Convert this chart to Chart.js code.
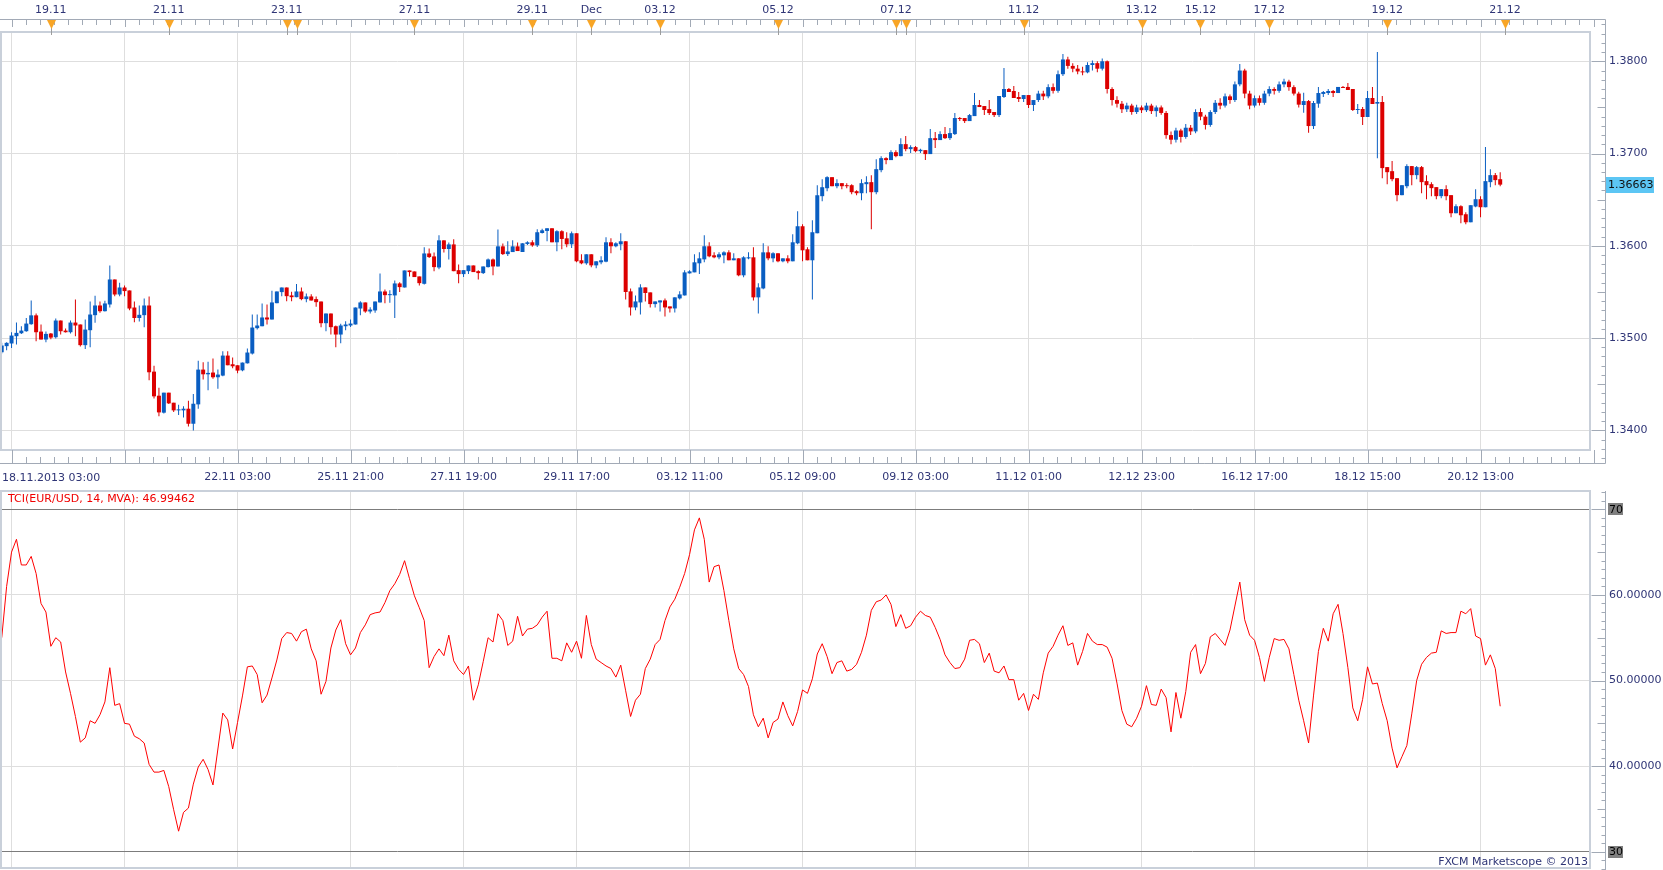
<!DOCTYPE html>
<html>
<head>
<meta charset="utf-8">
<title>EUR/USD H2</title>
<script src="https://cdn.jsdelivr.net/npm/chart.js@4.4.1/dist/chart.umd.min.js"></script>
<style>
  html, body { margin: 0; padding: 0; background: #fff; overflow: hidden; }
  #wrap { position: relative; width: 1663px; height: 870px; }
  canvas { position: absolute; left: 0; }
</style>
</head>
<body>
<div id="wrap">
  <canvas id="price" width="1663" height="488" style="top:0"></canvas>
  <canvas id="tci" width="1663" height="382" style="top:488px"></canvas>
</div>
<script>
// EUR/USD, 2-hour candles, 18.11.2013 03:00 .. 20.12.2013 21:00
const opens = [
  1.34846,1.34912,1.34941,1.35020,1.35052,1.35074,1.35150,1.35246,1.35070,1.34984,
  1.35049,1.35009,1.35190,1.35081,1.35063,1.35168,1.35147,1.34923,1.35085,1.35248,
  1.35353,1.35291,1.35364,1.35635,1.35472,1.35548,1.35516,1.35331,1.35217,1.35248,
  1.35353,1.34636,1.34375,1.34191,1.34408,1.34299,1.34216,1.34216,1.34234,1.34071,
  1.34281,1.34658,1.34607,1.34626,1.34575,1.34593,1.34810,1.34716,1.34705,1.34650,
  1.34726,1.34832,1.35107,1.35128,1.35223,1.35201,1.35378,1.35498,1.35548,1.35462,
  1.35443,1.35505,1.35422,1.35451,1.35422,1.35396,1.35161,1.35266,1.35128,1.35038,
  1.35128,1.35136,1.35147,1.35320,1.35386,1.35288,1.35299,1.35386,1.35505,1.35465,
  1.35462,1.35592,1.35548,1.35733,1.35722,1.35668,1.35588,1.35917,1.35885,1.35765,
  1.36059,1.35965,1.36015,1.35736,1.35693,1.35725,1.35787,1.35725,1.35704,1.35769,
  1.35852,1.35776,1.35994,1.35910,1.35932,1.35994,1.35933,1.36020,1.36038,1.36005,
  1.36139,1.36161,1.36190,1.36038,1.36158,1.36081,1.36016,1.36136,1.35843,1.35810,
  1.35908,1.35788,1.35821,1.35828,1.36038,1.35995,1.36016,1.36049,1.35506,1.35332,
  1.35386,1.35549,1.35495,1.35368,1.35386,1.35408,1.35343,1.35321,1.35430,1.35462,
  1.35701,1.35712,1.35810,1.35853,1.35995,1.35897,1.35875,1.35897,1.35929,1.35843,
  1.35864,1.35680,1.35864,1.35875,1.35441,1.35538,1.35929,1.35864,1.35919,1.35832,
  1.35864,1.35832,1.36027,1.36212,1.35962,1.35843,1.36136,1.36538,1.36624,1.36744,
  1.36646,1.36679,1.36657,1.36657,1.36592,1.36570,1.36668,1.36690,1.36581,1.36820,
  1.36950,1.36929,1.37015,1.36972,1.37102,1.37048,1.37070,1.37026,1.37037,1.36994,
  1.37167,1.37146,1.37211,1.37167,1.37211,1.37385,1.37385,1.37352,1.37406,1.37526,
  1.37515,1.37482,1.37450,1.37417,1.37613,1.37700,1.37678,1.37613,1.37591,1.37634,
  1.37526,1.37580,1.37650,1.37620,1.37720,1.37680,1.37860,1.38020,1.37950,1.37920,
  1.37890,1.37880,1.37960,1.37980,1.37920,1.38000,1.37700,1.37580,1.37540,1.37480,
  1.37520,1.37450,1.37500,1.37470,1.37520,1.37460,1.37500,1.37440,1.37200,1.37150,
  1.37250,1.37180,1.37280,1.37240,1.37450,1.37400,1.37310,1.37450,1.37550,1.37520,
  1.37620,1.37580,1.37750,1.37900,1.37650,1.37520,1.37600,1.37550,1.37650,1.37700,
  1.37680,1.37750,1.37780,1.37720,1.37650,1.37526,1.37569,1.37298,1.37541,1.37646,
  1.37656,1.37678,1.37656,1.37722,1.37722,1.37700,1.37472,1.37483,1.37396,1.37602,
  1.37541,1.37559,1.36853,1.36809,1.36733,1.36549,1.36646,1.36864,1.36766,1.36853,
  1.36701,1.36668,1.36636,1.36538,1.36614,1.36549,1.36353,1.36429,1.36342,1.36255,
  1.36426,1.36505,1.36418,1.36690,1.36766,1.36722
];
const highs = [
  1.34948,1.34955,1.35063,1.35168,1.35128,1.35217,1.35407,1.35266,1.35147,1.35070,
  1.35056,1.35212,1.35190,1.35103,1.35190,1.35418,1.35147,1.35201,1.35396,1.35458,
  1.35396,1.35404,1.35787,1.35635,1.35599,1.35570,1.35516,1.35396,1.35353,1.35429,
  1.35451,1.34701,1.34462,1.34408,1.34408,1.34299,1.34278,1.34260,1.34321,1.34393,
  1.34755,1.34737,1.34744,1.34777,1.34658,1.34857,1.34857,1.34788,1.34705,1.34734,
  1.34887,1.35255,1.35255,1.35375,1.35364,1.35512,1.35505,1.35548,1.35548,1.35501,
  1.35585,1.35548,1.35483,1.35476,1.35451,1.35396,1.35266,1.35266,1.35136,1.35154,
  1.35183,1.35201,1.35331,1.35400,1.35386,1.35335,1.35396,1.35700,1.35527,1.35519,
  1.35624,1.35606,1.35733,1.35733,1.35722,1.35668,1.35983,1.35972,1.35928,1.36113,
  1.36059,1.36037,1.36070,1.35798,1.35736,1.35787,1.35787,1.35736,1.35776,1.35863,
  1.35863,1.36178,1.36026,1.36048,1.36059,1.36037,1.36027,1.36049,1.36060,1.36179,
  1.36186,1.36190,1.36190,1.36168,1.36168,1.36147,1.36154,1.36136,1.35908,1.35908,
  1.35908,1.35832,1.35886,1.36092,1.36081,1.36038,1.36136,1.36049,1.35538,1.35462,
  1.35582,1.35549,1.35495,1.35397,1.35408,1.35430,1.35343,1.35441,1.35506,1.35734,
  1.35734,1.35908,1.35929,1.36114,1.36038,1.35929,1.35929,1.35940,1.35951,1.35919,
  1.35864,1.35886,1.35929,1.35984,1.35593,1.36027,1.35995,1.35929,1.35919,1.35864,
  1.35897,1.36125,1.36375,1.36234,1.35984,1.36277,1.36657,1.36722,1.36755,1.36744,
  1.36722,1.36679,1.36679,1.36668,1.36603,1.36722,1.36755,1.36766,1.36939,1.36972,
  1.36961,1.37037,1.37037,1.37167,1.37189,1.37091,1.37081,1.37052,1.37037,1.37265,
  1.37233,1.37243,1.37287,1.37276,1.37439,1.37396,1.37385,1.37428,1.37656,1.37580,
  1.37515,1.37580,1.37450,1.37624,1.37928,1.37710,1.37732,1.37667,1.37634,1.37634,
  1.37580,1.37680,1.37680,1.37750,1.37760,1.37900,1.38080,1.38050,1.37980,1.37960,
  1.37940,1.37990,1.38010,1.38000,1.38030,1.38010,1.37720,1.37620,1.37570,1.37550,
  1.37540,1.37530,1.37520,1.37550,1.37540,1.37520,1.37520,1.37460,1.37240,1.37280,
  1.37270,1.37320,1.37310,1.37480,1.37490,1.37420,1.37470,1.37580,1.37600,1.37650,
  1.37640,1.37780,1.37970,1.37920,1.37680,1.37630,1.37630,1.37680,1.37730,1.37720,
  1.37780,1.37810,1.37800,1.37740,1.37670,1.37660,1.37580,1.37569,1.37722,1.37678,
  1.37700,1.37689,1.37722,1.37732,1.37765,1.37700,1.37537,1.37504,1.37678,1.37722,
  1.38102,1.37624,1.36853,1.36918,1.36733,1.36657,1.36885,1.36864,1.36864,1.36864,
  1.36766,1.36690,1.36636,1.36614,1.36657,1.36549,1.36451,1.36440,1.36364,1.36440,
  1.36614,1.36538,1.37070,1.36831,1.36788,1.36798
];
const lows = [
  1.34832,1.34869,1.34891,1.34930,1.35045,1.35067,1.35143,1.34966,1.34984,1.34955,
  1.34988,1.34995,1.35038,1.35060,1.35049,1.35020,1.34908,1.34880,1.34901,1.35165,
  1.35273,1.35288,1.35331,1.35454,1.35454,1.35454,1.35302,1.35172,1.35179,1.35118,
  1.34542,1.34346,1.34151,1.34183,1.34285,1.34198,1.34165,1.34140,1.34042,1.33999,
  1.34234,1.34550,1.34433,1.34560,1.34451,1.34586,1.34705,1.34672,1.34618,1.34640,
  1.34724,1.34821,1.35092,1.35128,1.35147,1.35201,1.35378,1.35454,1.35400,1.35400,
  1.35443,1.35411,1.35389,1.35407,1.35338,1.35118,1.35074,1.35038,1.34901,1.34944,
  1.35085,1.35121,1.35147,1.35248,1.35273,1.35266,1.35273,1.35386,1.35378,1.35382,
  1.35217,1.35498,1.35548,1.35668,1.35661,1.35570,1.35581,1.35867,1.35725,1.35747,
  1.35928,1.35852,1.35725,1.35595,1.35661,1.35693,1.35715,1.35635,1.35693,1.35765,
  1.35682,1.35776,1.35899,1.35889,1.35932,1.35943,1.35933,1.36009,1.35991,1.35987,
  1.36132,1.36049,1.36038,1.35940,1.35962,1.35984,1.35976,1.35821,1.35799,1.35795,
  1.35767,1.35756,1.35799,1.35821,1.35919,1.35984,1.35951,1.35419,1.35245,1.35300,
  1.35256,1.35397,1.35332,1.35332,1.35289,1.35234,1.35278,1.35278,1.35419,1.35462,
  1.35701,1.35712,1.35694,1.35821,1.35875,1.35864,1.35853,1.35810,1.35843,1.35843,
  1.35669,1.35658,1.35853,1.35408,1.35267,1.35528,1.35843,1.35821,1.35821,1.35821,
  1.35810,1.35832,1.36016,1.35832,1.35843,1.35419,1.36136,1.36483,1.36592,1.36646,
  1.36624,1.36614,1.36624,1.36559,1.36548,1.36494,1.36570,1.36179,1.36559,1.36798,
  1.36885,1.36929,1.36961,1.36972,1.37026,1.37005,1.37015,1.37005,1.36929,1.36994,
  1.37059,1.37146,1.37157,1.37146,1.37200,1.37352,1.37330,1.37352,1.37406,1.37504,
  1.37417,1.37417,1.37396,1.37396,1.37602,1.37667,1.37602,1.37558,1.37558,1.37493,
  1.37461,1.37560,1.37580,1.37600,1.37650,1.37660,1.37840,1.37920,1.37880,1.37860,
  1.37850,1.37870,1.37900,1.37880,1.37900,1.37650,1.37520,1.37500,1.37440,1.37450,
  1.37420,1.37430,1.37440,1.37450,1.37430,1.37400,1.37420,1.37160,1.37100,1.37120,
  1.37120,1.37160,1.37200,1.37220,1.37360,1.37260,1.37290,1.37430,1.37480,1.37500,
  1.37540,1.37560,1.37730,1.37600,1.37480,1.37500,1.37520,1.37530,1.37620,1.37640,
  1.37660,1.37720,1.37680,1.37630,1.37500,1.37443,1.37226,1.37265,1.37497,1.37613,
  1.37635,1.37613,1.37656,1.37711,1.37689,1.37461,1.37428,1.37309,1.37396,1.37537,
  1.36950,1.36733,1.36668,1.36701,1.36483,1.36549,1.36625,1.36657,1.36722,1.36570,
  1.36505,1.36538,1.36505,1.36516,1.36494,1.36310,1.36353,1.36245,1.36234,1.36255,
  1.36418,1.36310,1.36418,1.36635,1.36657,1.36646
];
const closes = [
  1.34919,1.34948,1.35027,1.35056,1.35081,1.35157,1.35246,1.35063,1.34984,1.35045,
  1.35005,1.35190,1.35074,1.35063,1.35168,1.35136,1.34923,1.35092,1.35255,1.35353,
  1.35291,1.35375,1.35635,1.35472,1.35548,1.35509,1.35320,1.35217,1.35252,1.35353,
  1.34629,1.34368,1.34194,1.34408,1.34292,1.34216,1.34223,1.34234,1.34071,1.34288,
  1.34658,1.34607,1.34622,1.34575,1.34604,1.34810,1.34705,1.34694,1.34647,1.34734,
  1.34843,1.35114,1.35136,1.35223,1.35201,1.35386,1.35505,1.35548,1.35454,1.35443,
  1.35505,1.35422,1.35451,1.35407,1.35389,1.35161,1.35266,1.35118,1.35038,1.35136,
  1.35147,1.35157,1.35331,1.35386,1.35288,1.35309,1.35396,1.35505,1.35465,1.35472,
  1.35592,1.35552,1.35733,1.35715,1.35661,1.35595,1.35917,1.35878,1.35769,1.36059,
  1.35965,1.36015,1.35725,1.35693,1.35736,1.35787,1.35715,1.35704,1.35776,1.35852,
  1.35776,1.35994,1.35910,1.35939,1.35994,1.35943,1.36027,1.36038,1.36005,1.36147,
  1.36168,1.36190,1.36038,1.36158,1.36074,1.36016,1.36136,1.35832,1.35810,1.35908,
  1.35788,1.35832,1.35843,1.36038,1.35995,1.36027,1.36049,1.35499,1.35332,1.35397,
  1.35549,1.35488,1.35368,1.35397,1.35408,1.35332,1.35321,1.35441,1.35473,1.35712,
  1.35723,1.35821,1.35864,1.35995,1.35886,1.35875,1.35908,1.35929,1.35843,1.35864,
  1.35680,1.35875,1.35875,1.35441,1.35549,1.35929,1.35864,1.35919,1.35832,1.35864,
  1.35832,1.36038,1.36212,1.35951,1.35843,1.36147,1.36548,1.36635,1.36744,1.36646,
  1.36679,1.36646,1.36646,1.36581,1.36570,1.36679,1.36690,1.36581,1.36831,1.36950,
  1.36929,1.37015,1.36972,1.37102,1.37048,1.37070,1.37026,1.37041,1.36994,1.37167,
  1.37146,1.37211,1.37167,1.37222,1.37385,1.37374,1.37352,1.37417,1.37526,1.37504,
  1.37472,1.37439,1.37417,1.37624,1.37700,1.37667,1.37602,1.37591,1.37634,1.37526,
  1.37580,1.37650,1.37620,1.37720,1.37680,1.37860,1.38020,1.37950,1.37920,1.37890,
  1.37880,1.37960,1.37980,1.37920,1.38000,1.37700,1.37580,1.37540,1.37480,1.37520,
  1.37450,1.37500,1.37470,1.37520,1.37460,1.37500,1.37440,1.37200,1.37150,1.37250,
  1.37180,1.37280,1.37240,1.37450,1.37400,1.37310,1.37450,1.37550,1.37520,1.37620,
  1.37580,1.37750,1.37900,1.37650,1.37520,1.37600,1.37550,1.37650,1.37700,1.37680,
  1.37750,1.37780,1.37720,1.37650,1.37530,1.37569,1.37298,1.37548,1.37656,1.37667,
  1.37678,1.37656,1.37722,1.37711,1.37689,1.37472,1.37483,1.37396,1.37602,1.37537,
  1.37559,1.36842,1.36798,1.36722,1.36549,1.36657,1.36864,1.36766,1.36853,1.36690,
  1.36657,1.36625,1.36538,1.36614,1.36538,1.36353,1.36429,1.36331,1.36255,1.36440,
  1.36505,1.36418,1.36701,1.36766,1.36712,1.36663
];
// TCI(EUR/USD, 14, MVA), one value per candle
const tciValues = [
  55,61,65,66.5,63.5,63.5,64.5,62.5,59,58,
  54,55,54.5,51,48.5,45.8,42.8,43.3,45.3,45,
  46,47.5,51.5,47.1,47.3,45,44.9,43.5,43.2,42.7,
  40.2,39.3,39.3,39.5,37.6,34.9,32.4,34.6,35.1,37.9,
  39.9,40.8,39.6,37.8,42,46.2,45.4,42,45.1,48.2,
  51.6,51.7,50.7,47.4,48.3,50.3,52.4,54.9,55.6,55.5,
  54.6,55.7,56,53.7,52.3,48.4,49.9,53.8,55.9,57.1,
  54.3,53,53.8,55.6,56.5,57.7,57.9,58,59.1,60.5,
  61.3,62.4,64,61.9,59.9,58.5,57,51.5,52.8,53.7,
  52.9,55.3,52.3,51.3,50.7,51.7,47.7,49.5,52.2,55,
  54.5,57.8,57,54.1,54.6,57.5,55.2,56,56.1,56.5,
  57.4,58.1,52.6,52.6,52.3,54.4,53.3,54.6,52.6,57.6,
  54.2,52.5,52.1,51.7,51.4,50.4,51.8,48.8,45.8,47.7,
  48.4,51.4,52.5,54.2,54.8,57,58.6,59.5,60.9,62.5,
  64.7,67.6,69,66.5,61.5,63.3,63.5,60.5,57,53.7,
  51.4,50.7,49.3,46,44.6,45.6,43.3,45.1,45.5,47.5,
  45.9,44.7,46.4,48.9,48.5,50.2,53.1,54.3,52.8,50.8,
  52.1,52.3,51.1,51.3,51.9,53.3,55.3,58.2,59.2,59.4,
  60,58.9,56.3,57.7,56.1,56.4,57.4,58.1,57.6,57.4,
  56.2,54.8,53,52.1,51.4,51.5,52.5,54.7,54.8,54.3,
  52.1,53.2,51.1,50.9,51.7,50.1,50.1,47.7,48.5,46.5,
  48.4,47.8,50.9,53.2,54,55.3,56.4,54.1,54.4,51.8,
  53.4,55.5,54.6,54.2,54.2,53.9,52.6,49.7,46.5,44.9,
  44.6,45.6,47,49.4,47.2,47.1,49,48,44.0,48.6,
  45.6,48.7,53.3,54.2,50.8,52,55.1,55.5,54.8,54.1,
  55.9,58.7,61.5,57.1,55.3,54.7,52.7,49.9,52.7,54.9,
  54.7,54.8,53.7,50.7,47.7,45.3,42.7,48.2,53.4,56.1,
  54.6,57.8,58.9,55.5,51.5,46.8,45.3,47.8,51.6,49.6,
  49.7,47.3,45.3,42.1,39.8,41.1,42.4,46.1,50,51.9,
  52.7,53.2,53.3,55.8,55.5,55.6,55.6,58.1,57.8,58.4,
  55.2,54.9,51.8,53.0,51.4,46.99462
];

// time axis (candle index -> label)
const firstCandleLabel = '18.11.2013 03:00';
const timeTickIdx = [2, 25, 48, 71, 94, 117, 140, 163, 186, 209, 232, 255, 278, 301];
const timeTickLabels = ['', '', '22.11 03:00', '25.11 21:00', '27.11 19:00', '29.11 17:00',
  '03.12 11:00', '05.12 09:00', '09.12 03:00', '11.12 01:00', '12.12 23:00',
  '16.12 17:00', '18.12 15:00', '20.12 13:00'];
const rulerSteps = 8;

// day markers on the top strip
const dayMarkIdx = [10, 34, 58, 60, 84, 108, 120, 134, 158, 182, 184, 208, 232, 244, 258, 282, 306];
const dayLabelIdx = [10, 34, 58, 84, 108, 120, 134, 158, 182, 208, 232, 244, 258, 282, 306];
const dayLabels = ['19.11', '21.11', '23.11', '27.11', '29.11', 'Dec', '03.12', '05.12',
  '07.12', '11.12', '13.12', '15.12', '17.12', '19.12', '21.12'];

const priceTicks = [1.34, 1.35, 1.36, 1.37, 1.38];
const tciTicks = [30, 40, 50, 60, 70];
const tciBounds = [30, 70];
const tciTitle = 'TCI(EUR/USD, 14, MVA): ';
const footer = 'FXCM Marketscope \u00a9 2013';

const X_MIN = -0.35;
const X_MAX = 323.28;
const FONT = "11px 'DejaVu Sans'";
const TEXT = '#2f3576';
const RULER = '#a2aab6';
const FRAME = '#c9d0da';
const GRID = '#dedede';
const UP = '#0a5ec2';
const DOWN = '#dc0000';
const AXIS_X = 1605.5;

Chart.defaults.font.family = "'DejaVu Sans', Verdana, sans-serif";
Chart.defaults.font.size = 11;
Chart.defaults.color = TEXT;

const idx = closes.map((_, i) => i);
const candleColors = idx.map((i) => (closes[i] >= opens[i] ? UP : DOWN));
const wickData = idx.map((i) => ({ x: i, y: [lows[i], highs[i]] }));
const bodyData = idx.map((i) => ({
  x: i,
  y: [Math.min(opens[i], closes[i]), Math.max(opens[i], closes[i])],
}));

const sharp = (v) => Math.round(v) + 0.5;

// fixed-size axes, no automatic label padding
const fixHeight = (h) => (s) => { s.height = h; s.paddingLeft = 0; s.paddingRight = 0; };
const fixWidth = (w) => (s) => { s.width = w; s.paddingTop = 0; s.paddingBottom = 0; };

const priceChrome = {
  id: 'priceChrome',
  afterDraw(chart) {
    const { ctx, chartArea: a, scales } = chart;
    const x = scales.x;
    const y = scales.y;
    const xTop = scales.xTop;
    ctx.save();

    // plot frame
    ctx.strokeStyle = FRAME;
    ctx.lineWidth = 2;
    ctx.strokeRect(a.left + 1, a.top, a.right - a.left - 1, a.bottom - a.top);

    // rulers + right axis
    ctx.strokeStyle = RULER;
    ctx.lineWidth = 1;
    ctx.beginPath();
    ctx.moveTo(0, 19.5);
    ctx.lineTo(AXIS_X, 19.5);
    ctx.moveTo(0, 463.5);
    ctx.lineTo(AXIS_X, 463.5);
    ctx.moveTo(AXIS_X, 19.5);
    ctx.lineTo(AXIS_X, 463.5);
    const step = (timeTickIdx[1] - timeTickIdx[0]) / rulerSteps;
    for (let k = -1; k < 200; k++) {
      const px = sharp(x.getPixelForValue(timeTickIdx[0] + k * step));
      if (px < 0) continue;
      if (px > AXIS_X - 3) break;
      const major = k % rulerSteps === 0;
      ctx.moveTo(px, 463.5);
      ctx.lineTo(px, major ? a.bottom : 457);
      ctx.moveTo(px, 19.5);
      ctx.lineTo(px, major ? 27 : 25);
    }
    for (let k = 1336; k <= 1386; k++) {
      const py = sharp(y.getPixelForValue(k / 1000));
      if (py < 21 || py > 463) continue;
      const len = k % 10 === 0 ? 14 : k % 5 === 0 ? 8 : 4;
      ctx.moveTo(AXIS_X - len, py);
      ctx.lineTo(AXIS_X, py);
    }
    ctx.stroke();

    // day markers
    ctx.strokeStyle = '#9c9c9c';
    ctx.beginPath();
    dayMarkIdx.forEach((v) => {
      const px = sharp(xTop.getPixelForValue(v));
      ctx.moveTo(px, 28);
      ctx.lineTo(px, 35);
    });
    ctx.stroke();
    ctx.fillStyle = '#f8a526';
    dayMarkIdx.forEach((v) => {
      const px = sharp(xTop.getPixelForValue(v));
      ctx.beginPath();
      ctx.moveTo(px - 4.5, 20);
      ctx.lineTo(px + 4.5, 20);
      ctx.lineTo(px, 29);
      ctx.closePath();
      ctx.fill();
    });

    // first time label, left aligned to the first candle
    ctx.font = FONT;
    ctx.fillStyle = TEXT;
    ctx.textAlign = 'left';
    ctx.textBaseline = 'middle';
    ctx.fillText(firstCandleLabel, Math.max(2, x.getPixelForValue(0)), 478);

    // last price badge
    const last = closes[closes.length - 1];
    const py = y.getPixelForValue(last);
    ctx.fillStyle = '#5cc6f4';
    ctx.fillRect(1606, Math.round(py) - 8, 48, 16);
    ctx.fillStyle = '#111';
    ctx.fillText(last.toFixed(5), 1608, py + 0.5);
    ctx.restore();
  },
};

const tciChrome = {
  id: 'tciChrome',
  afterDraw(chart) {
    const { ctx, chartArea: a, scales } = chart;
    const y = scales.y;
    ctx.save();
    ctx.strokeStyle = FRAME;
    ctx.lineWidth = 2;
    ctx.strokeRect(a.left + 1, a.top, a.right - a.left - 1, a.bottom - a.top);

    ctx.strokeStyle = RULER;
    ctx.lineWidth = 1;
    ctx.beginPath();
    ctx.moveTo(AXIS_X, a.top);
    ctx.lineTo(AXIS_X, chart.height);
    for (let v = 27; v <= 73; v++) {
      const py = sharp(y.getPixelForValue(v));
      if (py < a.top || py > chart.height) continue;
      const len = v % 10 === 0 ? 14 : v % 5 === 0 ? 8 : 4;
      ctx.moveTo(AXIS_X - len, py);
      ctx.lineTo(AXIS_X, py);
    }
    ctx.stroke();

    ctx.font = FONT;
    ctx.textBaseline = 'middle';
    ctx.textAlign = 'left';
    tciBounds.forEach((v) => {
      const py = y.getPixelForValue(v);
      ctx.fillStyle = '#808080';
      ctx.fillRect(1608, Math.round(py) - 6, 15, 12);
      ctx.fillStyle = '#000';
      ctx.fillText(String(v), 1609, py + 0.5);
    });

    ctx.fillStyle = '#f00000';
    ctx.fillText(tciTitle + tciValues[tciValues.length - 1].toFixed(5), 8, a.top + 8);

    ctx.fillStyle = TEXT;
    ctx.textAlign = 'right';
    ctx.fillText(footer, a.right - 2, a.bottom - 6);
    ctx.restore();
  },
};

const timeAxis = (height, showLabels) => ({
  type: 'linear',
  min: X_MIN,
  max: X_MAX,
  offset: false,
  afterBuildTicks: (s) => { s.ticks = timeTickIdx.map((v) => ({ value: v })); },
  afterFit: fixHeight(height),
  grid: { color: GRID, drawTicks: false, offset: false },
  border: { display: false },
  ticks: {
    display: showLabels,
    autoSkip: false,
    maxRotation: 0,
    padding: 21,
    callback: (v, i) => timeTickLabels[i],
  },
});

new Chart(document.getElementById('price'), {
  type: 'bar',
  data: {
    datasets: [
      { data: wickData, backgroundColor: candleColors, barThickness: 1, grouped: false, inflateAmount: 0, borderWidth: 0 },
      { data: bodyData, backgroundColor: candleColors, barThickness: 4, grouped: false, inflateAmount: 0, borderWidth: 0, minBarLength: 1 },
    ],
  },
  options: {
    responsive: false,
    animation: false,
    devicePixelRatio: 1,
    layout: { padding: 0 },
    plugins: { legend: { display: false }, tooltip: { enabled: false } },
    scales: {
      x: timeAxis(38, true),
      xTop: {
        type: 'linear',
        position: 'top',
        min: X_MIN,
        max: X_MAX,
        offset: false,
        afterBuildTicks: (s) => { s.ticks = dayLabelIdx.map((v) => ({ value: v })); },
        afterFit: fixHeight(32),
        grid: { display: false, drawTicks: false, offset: false },
        border: { display: false },
        ticks: { autoSkip: false, maxRotation: 0, padding: 15, callback: (v, i) => dayLabels[i] },
      },
      y: {
        position: 'right',
        min: 1.337864,
        max: 1.383176,
        beginAtZero: false,
        afterBuildTicks: (s) => { s.ticks = priceTicks.map((v) => ({ value: v })); },
        afterFit: fixWidth(73),
        grid: { color: GRID, drawTicks: false },
        border: { display: false },
        ticks: { padding: 19, callback: (v) => v.toFixed(4) },
      },
    },
  },
  plugins: [priceChrome],
});

new Chart(document.getElementById('tci'), {
  type: 'line',
  data: {
    datasets: [{
      data: idx.map((i) => ({ x: i, y: tciValues[i] })),
      borderColor: '#ff0000',
      borderWidth: 1,
      pointRadius: 0,
      tension: 0,
    }],
  },
  options: {
    responsive: false,
    animation: false,
    devicePixelRatio: 1,
    layout: { padding: { top: 3, bottom: 2, left: 0, right: 0 } },
    plugins: { legend: { display: false }, tooltip: { enabled: false } },
    scales: {
      x: timeAxis(0, false),
      y: {
        position: 'right',
        min: 28.10,
        max: 72.14,
        afterBuildTicks: (s) => { s.ticks = tciTicks.map((v) => ({ value: v })); },
        afterFit: fixWidth(73),
        grid: {
          color: (c) => (tciBounds.includes(c.tick.value) ? '#7c7c7c' : GRID),
          drawTicks: false,
        },
        border: { display: false },
        ticks: {
          padding: 19,
          callback: (v) => (tciBounds.includes(v) ? '' : v.toFixed(5)),
        },
      },
    },
  },
  plugins: [tciChrome],
});
</script>
</body>
</html>
